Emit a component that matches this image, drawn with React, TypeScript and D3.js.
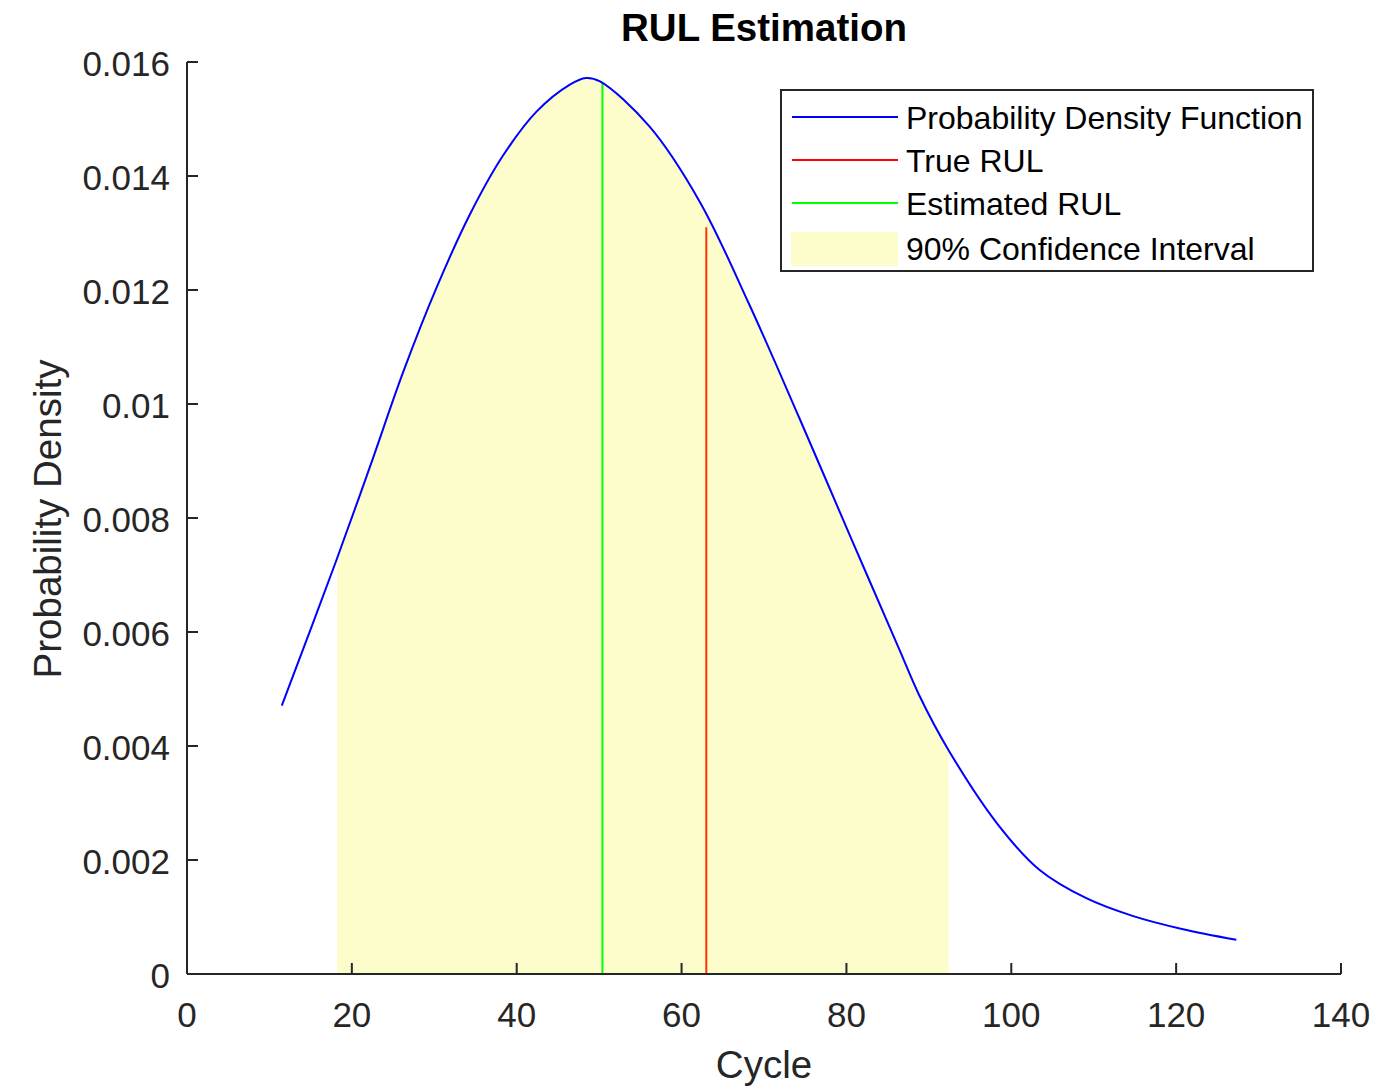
import React from "react";
import * as d3 from "d3";

// ---- data ----
const cycles = [11.5, 18.1, 22.2, 26.2, 30.3, 34.3, 38.3, 42.4, 46.4, 48.4, 50.1, 56.1, 62.2, 68.2, 74.3, 80.4, 86.4, 88.8, 92.5, 98.5, 103.4, 109.1, 114.7, 120.7, 127.3];
const density = [0.00471, 0.00725, 0.0089, 0.01055, 0.01205, 0.01332, 0.01435, 0.01513, 0.0156, 0.01572, 0.01566, 0.01487, 0.01355, 0.01175, 0.00975, 0.0077, 0.0057, 0.0049, 0.0039, 0.0026, 0.00183, 0.00133, 0.00102, 0.00079, 0.0006];
const ciBounds = [18.2, 92.4];
const estimatedRUL = [50.4, 0.01565];
const trueRUL = [63.0, 0.0131];
const xTicks = [0, 20, 40, 60, 80, 100, 120, 140];
const yTicks = [0, 0.002, 0.004, 0.006, 0.008, 0.01, 0.012, 0.014, 0.016];
const yTickLabels = ["0", "0.002", "0.004", "0.006", "0.008", "0.01", "0.012", "0.014", "0.016"];
const legendLabels = ["Probability Density Function", "True RUL", "Estimated RUL", "90% Confidence Interval"];

const W = 1400, H = 1089;
const FONT = "'Liberation Sans', Arial, Helvetica, sans-serif";
const AX = "#262626";

export default function App() {
  const x = d3.scaleLinear().domain([0, 140]).range([187, 1341]);
  const y = d3.scaleLinear().domain([0, 0.016]).range([974, 62]);
  const pts: [number, number][] = cycles.map((c, i) => [c, density[i]]);
  const curve = d3.curveCatmullRom.alpha(0.5);
  const line = d3.line<[number, number]>().x(d => x(d[0])).y(d => y(d[1])).curve(curve);
  const area = d3.area<[number, number]>().x(d => x(d[0])).y0(y(0)).y1(d => y(d[1])).curve(curve);

  const legendColors = ["#0000ff", "#ff0000", "#00ff00"];
  const rowY = [118, 161, 204, 249];

  return (
    <svg width={W} height={H} style={{ position: "absolute", left: 0, top: 0, background: "#fff" }} fontFamily={FONT}>
      <defs>
        <clipPath id="ci">
          <rect x={x(ciBounds[0])} y={0} width={x(ciBounds[1]) - x(ciBounds[0])} height={H} />
        </clipPath>
      </defs>
      <rect x={0} y={0} width={W} height={H} fill="#fff" />
      <path d={area(pts) || ""} fill="#fdfccb" clipPath="url(#ci)" />
      <line x1={x(estimatedRUL[0])} x2={x(estimatedRUL[0])} y1={y(0)} y2={y(estimatedRUL[1])} stroke="#00ff00" strokeWidth={2} />
      <line x1={x(trueRUL[0])} x2={x(trueRUL[0])} y1={y(0)} y2={y(trueRUL[1])} stroke="#ff3300" strokeWidth={2} />
      <path d={line(pts) || ""} fill="none" stroke="#0000ff" strokeWidth={2} />

      {/* axes */}
      <line x1={x(0)} x2={x(140)} y1={y(0)} y2={y(0)} stroke={AX} strokeWidth={2} />
      <line x1={x(0)} x2={x(0)} y1={y(0)} y2={y(0.016)} stroke={AX} strokeWidth={2} />
      {xTicks.map(t => (
        <g key={"x" + t}>
          <line x1={x(t)} x2={x(t)} y1={y(0)} y2={y(0) - 11} stroke={AX} strokeWidth={2} />
          <text x={x(t)} y={1027} textAnchor="middle" fontSize={35} fill={AX}>{t}</text>
        </g>
      ))}
      {yTicks.map((t, i) => (
        <g key={"y" + t}>
          <line x1={x(0)} x2={x(0) + 11} y1={y(t)} y2={y(t)} stroke={AX} strokeWidth={2} />
          <text x={170} y={y(t) + 14} textAnchor="end" fontSize={35} fill={AX}>{yTickLabels[i]}</text>
        </g>
      ))}

      {/* labels */}
      <text x={764} y={41} textAnchor="middle" fontSize={38.5} fontWeight="bold" fill="#000">RUL Estimation</text>
      <text x={764} y={1078} textAnchor="middle" fontSize={38.5} fill={AX}>Cycle</text>
      <text transform={`translate(61,519) rotate(-90)`} textAnchor="middle" fontSize={38.5} fill={AX}>Probability Density</text>

      {/* legend */}
      <rect x={781} y={90} width={532} height={181} fill="#fff" stroke={AX} strokeWidth={2} />
      {legendColors.map((c, i) => (
        <line key={"l" + i} x1={792} x2={898} y1={rowY[i] - 1} y2={rowY[i] - 1} stroke={c} strokeWidth={2} />
      ))}
      <rect x={791} y={232} width={107} height={34} fill="#fdfccb" />
      {legendLabels.map((s, i) => (
        <text key={"t" + i} x={906} y={rowY[i] + 11} fontSize={32} fill="#000">{s}</text>
      ))}
    </svg>
  );
}
